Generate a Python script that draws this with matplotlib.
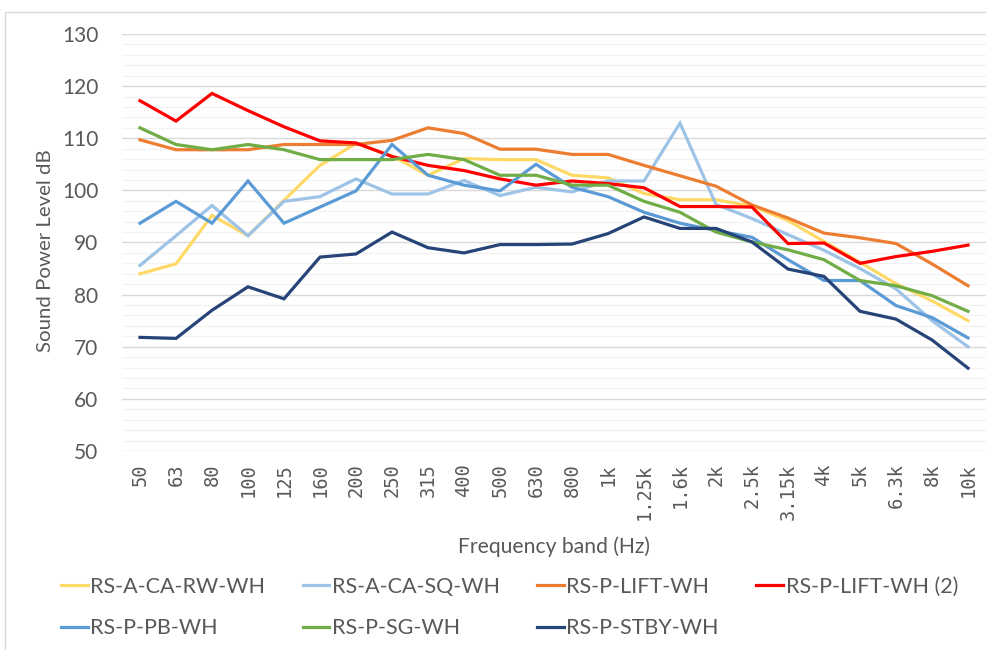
import matplotlib
matplotlib.use('Agg')
import matplotlib.pyplot as plt
from matplotlib.ticker import MultipleLocator
from matplotlib.patches import Rectangle

# frequency bands
bands = ['50', '63', '80', '100', '125', '160', '200', '250', '315', '400', '500', '630',
         '800', '1k', '1.25k', '1.6k', '2k', '2.5k', '3.15k', '4k', '5k', '6.3k', '8k', '10k']

# sound power levels (dB)
rw = [84.0, 85.9, 95.2, 91.3, 98.1, 104.8, 109.0, 106.6, 102.9, 106.1, 105.9, 105.9,
      102.9, 102.4, 99.4, 98.2, 98.2, 97.0, 94.2, 90.2, 86.2, 82.1, 78.8, 75.0]
sq = [85.6, 91.3, 97.1, 91.3, 97.9, 98.8, 102.2, 99.3, 99.3, 101.9, 99.0, 100.6,
      99.7, 101.8, 101.8, 112.9, 97.3, 94.6, 91.5, 88.5, 85.0, 81.1, 75.0, 70.0]
lift = [109.7, 107.8, 107.8, 107.8, 108.8, 108.8, 108.8, 109.6, 112.0, 110.9, 107.9, 107.9,
        106.9, 106.9, 104.8, 102.8, 100.8, 97.2, 94.7, 91.8, 90.9, 89.8, 85.9, 81.7]
lift2 = [117.2, 113.3, 118.6, 115.3, 112.2, 109.5, 109.1, 106.5, 104.8, 103.8, 102.2, 101.0,
         101.8, 101.3, 100.5, 96.9, 96.9, 96.8, 89.8, 89.9, 86.0, 87.3, 88.3, 89.5]
pb = [93.7, 97.9, 93.7, 101.8, 93.7, 96.8, 99.9, 108.8, 102.9, 101.0, 99.9, 105.0,
      100.6, 98.8, 95.8, 93.7, 92.3, 91.0, 86.7, 82.7, 82.7, 77.9, 75.6, 71.7]
sg = [112.0, 108.8, 107.8, 108.8, 107.8, 105.9, 105.9, 105.9, 106.9, 105.9, 102.9, 102.9,
      101.0, 101.0, 97.9, 95.8, 92.0, 90.1, 88.6, 86.7, 82.7, 81.7, 79.8, 76.8]
stby = [71.8, 71.6, 77.0, 81.5, 79.2, 87.2, 87.8, 92.0, 89.0, 88.0, 89.6, 89.6,
        89.7, 91.7, 94.9, 92.7, 92.7, 90.1, 84.9, 83.5, 76.8, 75.3, 71.3, 65.9]

series = [
    ('RS-A-CA-RW-WH', rw, '#FFD966'),
    ('RS-A-CA-SQ-WH', sq, '#9DC3E6'),
    ('RS-P-LIFT-WH', lift, '#ED7D31'),
    ('RS-P-LIFT-WH (2)', lift2, '#FF0000'),
    ('RS-P-PB-WH', pb, '#5B9BD5'),
    ('RS-P-SG-WH', sg, '#70AD47'),
    ('RS-P-STBY-WH', stby, '#264478'),
]

txt = '#595959'
sans = ['Lato', 'DejaVu Sans']

fig = plt.figure(figsize=(9.87, 6.5), dpi=100)
ax = fig.add_axes([122/987, 1-451/650, 864/987, 417/650])

x = list(range(len(bands)))
lines = {}
for name, vals, col in series:
    ln, = ax.plot(x, vals, color=col, lw=2.3, solid_joinstyle='miter', label=name)
    lines[name] = ln

ax.set_xlim(-0.5, len(bands) - 0.5)
ax.set_ylim(50, 130)
ax.yaxis.set_major_locator(MultipleLocator(10))
ax.yaxis.set_minor_locator(MultipleLocator(2))
ax.grid(axis='y', which='major', color='#D9D9D9', lw=1.0)
ax.grid(axis='y', which='minor', color='#F2F2F2', lw=0.9)
ax.set_axisbelow(True)
for s in ax.spines.values():
    s.set_visible(False)

ax.set_xticks(x)
ax.set_xticklabels(bands, rotation=90, family='DejaVu Sans Mono', fontsize=13.5, color=txt)
ax.tick_params(axis='x', length=0, pad=9)
ax.tick_params(axis='y', which='both', length=0, pad=17, labelsize=15, labelcolor=txt)
for t in ax.get_yticklabels():
    t.set_family(sans)

ax.set_ylabel('Sound Power Level dB', family=sans, fontsize=14.7, color=txt)
ax.yaxis.set_label_coords(-0.079, 0.48)
ax.set_xlabel('Frequency band (Hz)', family=sans, fontsize=15.2, color=txt)
ax.xaxis.set_label_coords(0.5, -0.205)

# legend filled column-wise, so reorder to read row by row
order = ['RS-A-CA-RW-WH', 'RS-P-PB-WH', 'RS-A-CA-SQ-WH', 'RS-P-SG-WH',
         'RS-P-LIFT-WH', 'RS-P-STBY-WH', 'RS-P-LIFT-WH (2)']
leg = fig.legend([lines[n] for n in order], order, ncol=4, loc='upper left',
                 bbox_to_anchor=(50/987, 1-566/650), frameon=False,
                 prop={'family': sans, 'size': 15.5}, labelcolor=txt,
                 handlelength=1.25, handletextpad=0.1, columnspacing=1.75,
                 labelspacing=1.0, borderpad=0)

# chart frame
fig.patches.append(Rectangle((5/987, -0.05), 1.0, 1-12/650+0.05, transform=fig.transFigure,
                             fill=False, edgecolor='#D9D9D9', lw=1.0, clip_on=False))

fig.savefig('out.png', dpi=100)
